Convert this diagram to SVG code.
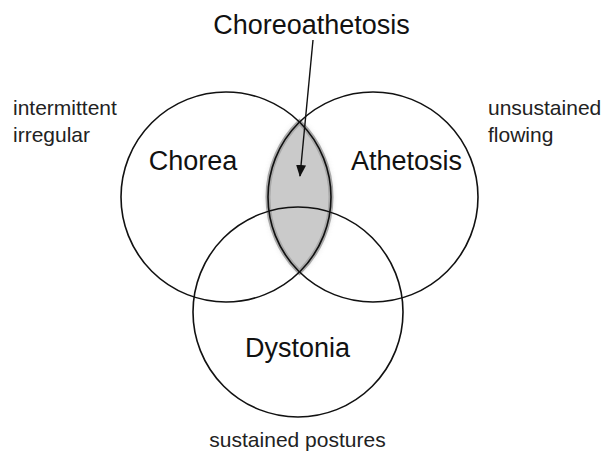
<svg xmlns="http://www.w3.org/2000/svg" width="608" height="451" viewBox="0 0 608 451">
<defs>
<style>
.c{fill:none;stroke:#111;stroke-width:1.6}
.big{font-family:"Liberation Sans",Arial,sans-serif;font-size:27px;fill:#111}
.small{font-family:"Liberation Sans",Arial,sans-serif;font-size:21px;fill:#222}
</style>
<marker id="ah" markerWidth="12" markerHeight="14" refX="11" refY="5" orient="auto" markerUnits="userSpaceOnUse" viewBox="0 0 12 10">
<path d="M0,0 L12,5 L0,10 Z" fill="#111"/>
</marker>
<filter id="sh" x="-30%" y="-30%" width="160%" height="160%">
<feGaussianBlur stdDeviation="3"/>
</filter>
</defs>
<rect width="608" height="451" fill="#fff"/>
<g id="lens">
<path d="M299.5,122 A105,105 0 0 0 299.5,272 A105,105 0 0 0 299.5,122 Z" fill="#999" filter="url(#sh)" opacity="0.6"/>
<path d="M299.5,122 A105,105 0 0 0 299.5,272 A105,105 0 0 0 299.5,122 Z" fill="#cacaca" stroke="#a9a9a9" stroke-width="5"/>
</g>
<g id="chorea">
<circle class="c" cx="226" cy="197" r="105"/>
<text class="big" x="193" y="170" text-anchor="middle">Chorea</text>
</g>
<g id="athetosis">
<circle class="c" cx="373" cy="197" r="105"/>
<text class="big" x="406.5" y="170" text-anchor="middle">Athetosis</text>
</g>
<g id="dystonia">
<circle class="c" cx="298" cy="312" r="105"/>
<text class="big" x="297.5" y="357" text-anchor="middle">Dystonia</text>
</g>
<g id="choreoathetosis">
<text class="big" x="311.5" y="34" text-anchor="middle">Choreoathetosis</text>
</g>
<g id="labels">
<text class="small" x="13" y="115">intermittent</text>
<text class="small" x="13" y="142">irregular</text>
<text class="small" x="488" y="115">unsustained</text>
<text class="small" x="488" y="142">flowing</text>
<text class="small" x="297.5" y="447" text-anchor="middle">sustained postures</text>
</g>
<g id="connectors">
<line x1="313" y1="40" x2="300" y2="176" stroke="#111" stroke-width="1.4" marker-end="url(#ah)"/>
</g>
</svg>
